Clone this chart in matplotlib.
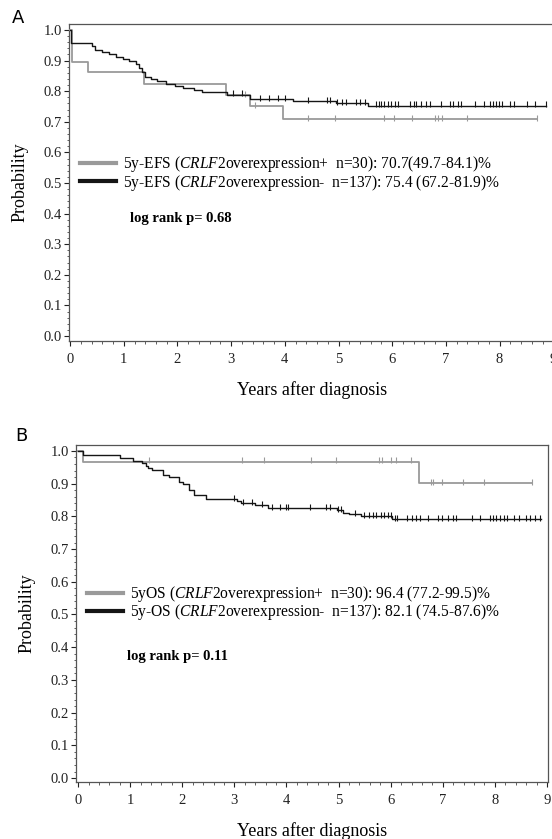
import matplotlib
matplotlib.use("Agg")
import matplotlib.pyplot as plt
from matplotlib.lines import Line2D
from matplotlib.ticker import MultipleLocator, FixedLocator, FixedFormatter

plt.rcParams['font.family'] = ['Liberation Serif', 'DejaVu Serif']
plt.rcParams['mathtext.fontset'] = 'custom'
plt.rcParams['mathtext.it'] = 'Liberation Serif:italic'
plt.rcParams['mathtext.rm'] = 'Liberation Serif'

# ---------------- Data ----------------
# Panel A: EFS
efs_pos_t = [0.0, 0.03, 0.33, 1.37, 2.90, 3.35, 3.97]
efs_pos_s = [1.0, 0.896, 0.862, 0.823, 0.787, 0.752, 0.709]
efs_pos_end = 8.70
efs_pos_cens = [3.25, 3.45, 4.44, 4.94, 5.84, 6.04, 6.37, 6.80, 6.86, 6.92, 7.40, 8.70]

efs_neg_t = [0.0, 0.02, 0.40, 0.46, 0.60, 0.72, 0.85, 0.98, 1.10, 1.22, 1.28, 1.34,
             1.40, 1.50, 1.62, 1.78, 1.95, 2.10, 2.30, 2.45, 2.92, 3.35, 4.15, 4.95, 5.55]
efs_neg_s = [1.0, 0.956, 0.949, 0.934, 0.927, 0.920, 0.912, 0.905, 0.898, 0.890, 0.876, 0.862,
             0.848, 0.840, 0.833, 0.825, 0.818, 0.810, 0.803, 0.796, 0.789, 0.775, 0.768, 0.761, 0.753]
efs_neg_end = 8.87
efs_neg_cens = [3.03, 3.20, 3.53, 3.70, 3.87, 4.00, 4.44, 4.78, 4.85, 4.98, 5.07, 5.14, 5.33, 5.40,
                5.50, 5.69, 5.75, 5.80, 5.85, 5.92, 5.98, 6.05, 6.10, 6.34, 6.40, 6.45, 6.53, 6.62,
                6.70, 6.90, 7.08, 7.14, 7.23, 7.28, 7.55, 7.71, 7.82, 7.88, 7.93, 7.99, 8.04, 8.20,
                8.27, 8.51, 8.66, 8.87]

# Panel B: OS
os_pos_t = [0.0, 0.09, 6.55]
os_pos_s = [1.0, 0.967, 0.901]
os_pos_end = 8.71
os_pos_cens = [1.36, 3.14, 3.57, 4.47, 4.95, 5.78, 5.84, 6.00, 6.10, 6.39, 6.77, 6.82, 6.98,
               7.39, 7.80, 8.71]

os_neg_t = [0.0, 0.10, 0.81, 1.06, 1.22, 1.30, 1.35, 1.41, 1.63, 1.75, 1.94, 2.02, 2.12,
            2.23, 2.46, 3.05, 3.12, 3.40, 3.65, 4.97, 5.08, 5.20, 5.43, 6.02]
os_neg_s = [1.0, 0.988, 0.978, 0.970, 0.962, 0.955, 0.948, 0.942, 0.927, 0.920, 0.905, 0.898, 0.880,
            0.865, 0.853, 0.846, 0.840, 0.834, 0.825, 0.818, 0.811, 0.806, 0.800, 0.791]
os_neg_end = 8.88
os_neg_cens = [2.99, 3.17, 3.33, 3.53, 3.72, 3.88, 3.99, 4.02, 4.45, 4.76, 4.84, 4.98, 5.05,
               5.32, 5.48, 5.59, 5.66, 5.72, 5.81, 5.87, 5.95, 6.00, 6.08, 6.12, 6.31, 6.41,
               6.49, 6.57, 6.72, 6.91, 6.98, 7.10, 7.20, 7.26, 7.56, 7.72, 7.90, 7.96, 8.03,
               8.10, 8.17, 8.23, 8.36, 8.46, 8.59, 8.68, 8.77, 8.87]

x_ticks = [0, 1, 2, 3, 4, 5, 6, 7, 8, 9]
y_ticks = [0.0, 0.1, 0.2, 0.3, 0.4, 0.5, 0.6, 0.7, 0.8, 0.9, 1.0]
y_ticklabels = ["0.0", "0.1", "0.2", "0.3", "0.4", "0.5", "0.6", "0.7", "0.8", "0.9", "1.0"]

legend_A = [r"5y-EFS ($\it{CRLF2}$overexpression+  n=30): 70.7(49.7-84.1)%",
            r"5y-EFS ($\it{CRLF2}$overexpression-  n=137): 75.4 (67.2-81.9)%"]
legend_B = [r"5yOS ($\it{CRLF2}$overexpression+  n=30): 96.4 (77.2-99.5)%",
            r"5y-OS ($\it{CRLF2}$overexpression-  n=137): 82.1 (74.5-87.6)%"]
pvals = ["log rank p= 0.68", "log rank p= 0.11"]

GRAY = "#9a9a9a"
BLACK = "#151515"
FRAME = "#555555"


def surv_at(ts, ss, x):
    v = ss[0]
    for t, s in zip(ts, ss):
        if t <= x:
            v = s
    return v


def draw_curve(ax, ts, ss, end, cens, color, lw):
    xs = list(ts) + [end]
    ys = list(ss) + [ss[-1]]
    ax.step(xs, ys, where='post', color=color, lw=lw, zorder=3)
    cy = [surv_at(ts, ss, c) for c in cens]
    ax.plot(cens, [y + 0.004 for y in cy], linestyle='none', marker='|', markersize=4,
            markeredgewidth=0.8, color=color, zorder=3)


fig = plt.figure(figsize=(5.52, 8.39), dpi=100)

axA = fig.add_axes([69/552, 1-341/839, (556-69)/552, (341-24)/839])
axB = fig.add_axes([76/552, 1-782/839, (548-76)/552, (782-445)/839])

draw_curve(axA, efs_pos_t, efs_pos_s, efs_pos_end, efs_pos_cens, GRAY, 1.3)
draw_curve(axA, efs_neg_t, efs_neg_s, efs_neg_end, efs_neg_cens, BLACK, 1.0)
draw_curve(axB, os_pos_t, os_pos_s, os_pos_end, os_pos_cens, GRAY, 1.3)
draw_curve(axB, os_neg_t, os_neg_s, os_neg_end, os_neg_cens, BLACK, 1.0)

axA.set_xlim(-0.02, 9.05)
axA.set_ylim(-0.0163, 1.0196)
axB.set_xlim(-0.04, 9.02)
axB.set_ylim(-0.012, 1.018)

for ax, leg, pv, legy, pvpos in [(axA, legend_A, pvals[0], 0.608, (0.125, 0.385)),
                                 (axB, legend_B, pvals[1], 0.606, (0.107, 0.371))]:
    ax.xaxis.set_major_locator(FixedLocator(x_ticks))
    ax.xaxis.set_minor_locator(MultipleLocator(0.2))
    ax.yaxis.set_major_locator(FixedLocator(y_ticks))
    ax.yaxis.set_major_formatter(FixedFormatter(y_ticklabels))
    ax.yaxis.set_minor_locator(MultipleLocator(0.02))
    ax.tick_params(which='major', direction='out', length=3.5, width=0.8, colors='#222222',
                   labelsize=10.5, pad=5)
    ax.tick_params(which='minor', direction='out', length=1.8, width=0.6, colors='#444444')
    ax.tick_params(axis='y', pad=1.5)
    for sp in ax.spines.values():
        sp.set_color(FRAME)
        sp.set_linewidth(0.9)
    handles = [Line2D([0], [0], color=GRAY, lw=3.0), Line2D([0], [0], color=BLACK, lw=3.0)]
    ax.legend(handles, leg, loc='upper left', bbox_to_anchor=(0.01, legy), frameon=False,
              fontsize=11.2, handlelength=2.3, handletextpad=0.45, labelspacing=-0.12,
              borderaxespad=0.0)
    ax.text(pvpos[0], pvpos[1], pv, transform=ax.transAxes, fontsize=10.5,
            fontweight='bold', ha='left', va='center')
    ax.set_ylabel("Probability", fontsize=13, labelpad=11)
    ax.set_xlabel("Years after diagnosis", fontsize=13, labelpad=11)

fig.text(12/552, 1-18/839, "A", fontsize=13, family='DejaVu Sans', ha='left', va='center')
fig.text(15/552, 1-436/839, "B", fontsize=13, family='DejaVu Sans', ha='left', va='center')

fig.savefig("out.png", dpi=100)
